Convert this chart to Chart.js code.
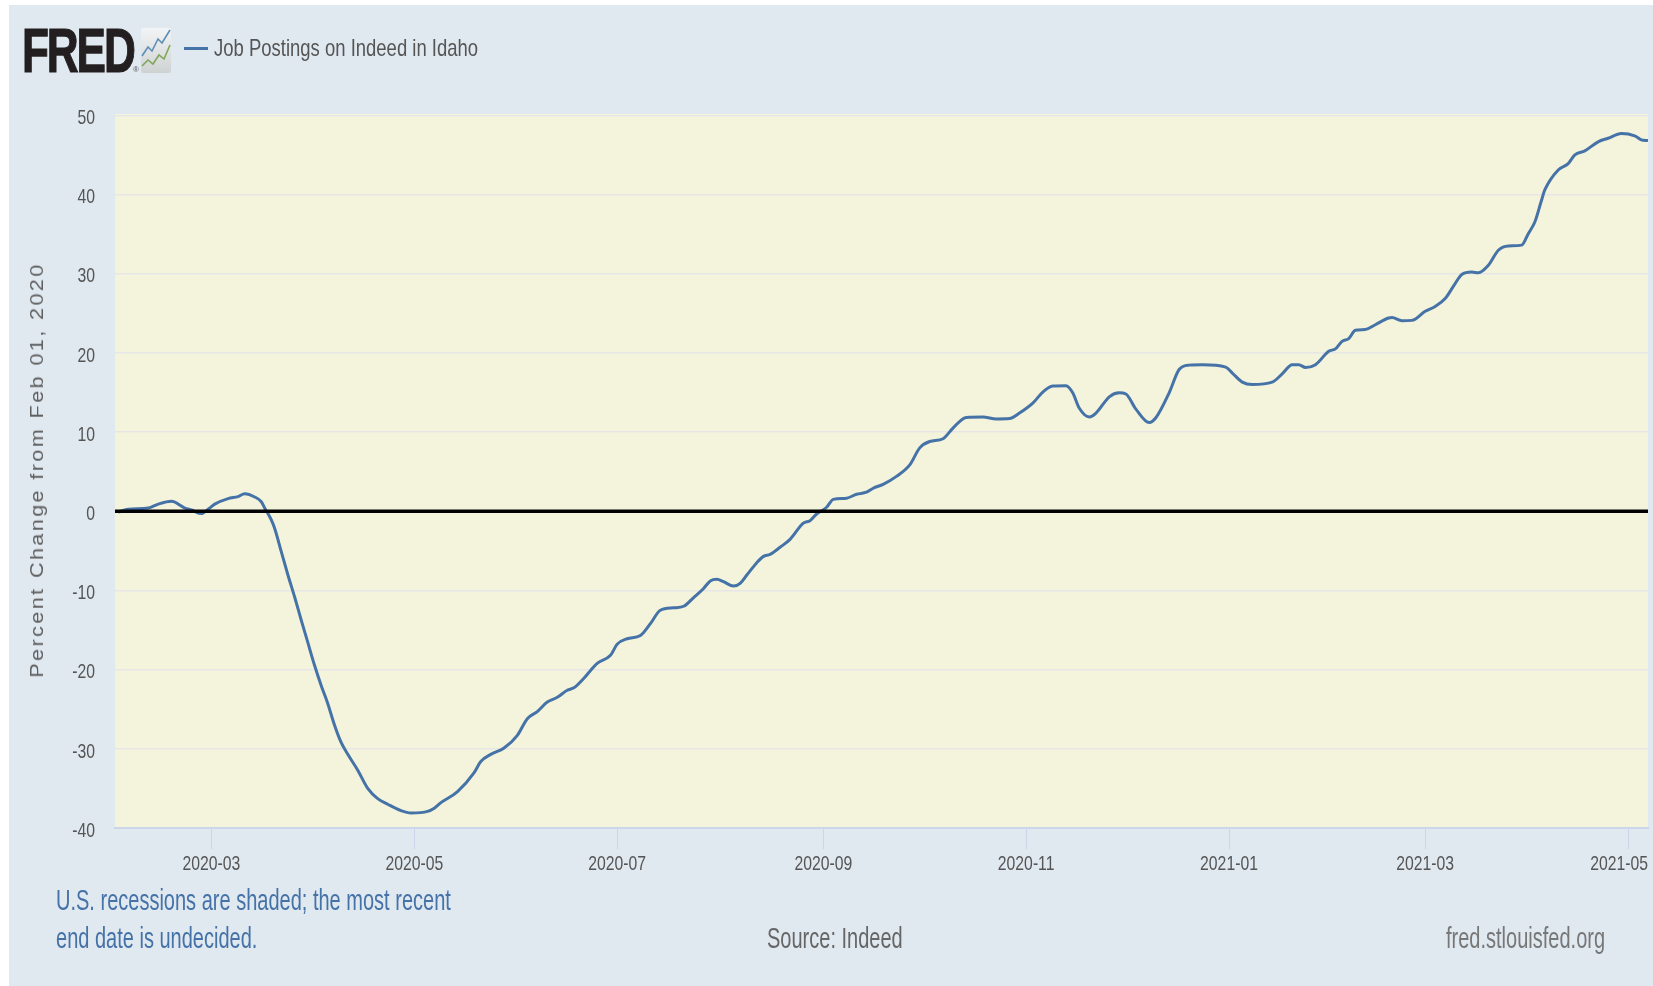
<!DOCTYPE html>
<html>
<head>
<meta charset="utf-8">
<title>Job Postings on Indeed in Idaho</title>
<script src="https://cdn.jsdelivr.net/npm/chart.js@4"></script>
<style>
  html, body { margin:0; padding:0; background:#fff; }
  #wrap { position:relative; width:1653px; height:986px; overflow:hidden; }
  #panel { position:absolute; left:9px; top:5px; right:0; bottom:0; background:#e0e8f0; }
  #chart { position:absolute; left:0; top:0; }
  .txt { position:absolute; white-space:nowrap; font-family:"Liberation Sans",sans-serif; line-height:1; transform-origin:left top; }
  #logo { left:22px; top:19px; font-size:63px; font-weight:700; color:#231f20; letter-spacing:-3px; -webkit-text-stroke:1.2px #231f20; transform:scaleX(0.70); }
  #reg { left:133px; top:66px; font-size:8px; color:#555; }
  #icon { position:absolute; left:141px; top:28px; }
  #swatch { position:absolute; left:184px; top:47px; width:24px; height:3px; background:#4572a7; }
  #legend { left:214px; top:36px; font-size:24px; color:#555; transform:scaleX(0.77); }
  #ytitle { left:37px; top:470px; font-size:18px; color:#5f5f5f; letter-spacing:2px; transform-origin:center; transform:translate(-50%,-50%) rotate(-90deg) scaleX(1.2); }
  .foot { font-size:30px; transform:scaleX(0.667); }
  #note1 { left:56px; top:885px; color:#4572a7; }
  #note2 { left:56px; top:923px; color:#4572a7; }
  #source { left:767px; top:923px; color:#666; }
  #site { left:1446px; top:923px; color:#777; }
</style>
</head>
<body>
<div id="wrap">
  <div id="panel"></div>
  <canvas id="chart" width="1653" height="986"></canvas>
  <div class="txt" id="logo">FRED</div>
  <div class="txt" id="reg">®</div>
  <svg id="icon" width="30" height="45" viewBox="0 0 30 45">
    <defs><linearGradient id="bx" x1="0" y1="0" x2="0" y2="1"><stop offset="0" stop-color="#f2f4f6"/><stop offset="1" stop-color="#cfd2d2"/></linearGradient></defs>
    <rect width="30" height="45" rx="2" fill="url(#bx)"/>
    <polyline points="1,28 7,19 11,23 17,11 21,15 29,2" fill="none" stroke="#5b8db8" stroke-width="1.6"/>
    <polyline points="1,38 7,32 12,36 18,27 23,31 29,17" fill="none" stroke="#7fa65a" stroke-width="1.6"/>
  </svg>
  <div id="swatch"></div>
  <div class="txt" id="legend">Job Postings on Indeed in Idaho</div>
  <div class="txt" id="ytitle">Percent Change from Feb 01, 2020</div>
  <div class="txt foot" id="note1">U.S. recessions are shaded; the most recent</div>
  <div class="txt foot" id="note2">end date is undecided.</div>
  <div class="txt foot" id="source">Source: Indeed</div>
  <div class="txt foot" id="site">fred.stlouisfed.org</div>
</div>
<script>
/* data. x = days since 2020-02-01, y = percent change */
const dayOffsets = [
  1,4,10,13,17,21,23,26,28,30,34,37,39,42,44,45,46,47,48,50,52,54,56,58,60,62,64,66,68,70,73,76,79,82,86,89,94,96,98,
  103,108,110,113,117,121,124,127,130,133,136,138,141,143,145,149,151,154,158,161,164,168,171,174,177,179,181,183,186,188,190,193,195,197,200,203,207,209,211,
  214,216,220,223,226,228,231,235,239,242,245,249,252,256,261,265,269,272,276,279,282,286,288,290,293,295,299,302,304,307,311,313,317,320,323,327,334,
  336,339,342,348,351,354,356,358,361,365,367,369,371,373,376,379,383,384,387,390,394,397,400,403,405,408,410,413,416,419,423,425,427,429,
  430,434,437,439,442,446,449,453,457,459,461
];
const pctChange = [
  -0.1,0.25,0.4,0.9,1.25,0.4,0.15,-0.3,0.25,0.9,1.6,1.85,2.2,1.8,1.2,0.4,-0.3,-1.1,-2.15,-5.1,-8.05,-10.8,-13.75,-16.6,-19.45,-22,-24.3,-27,-29.2,-30.7,-32.7,-35,-36.3,-37,-37.8,-38.1,-37.9,-37.5,-36.8,
  -35.4,-33,-31.6,-30.7,-29.9,-28.3,-26.2,-25.3,-24.1,-23.5,-22.6,-22.3,-21.1,-20.1,-19.2,-18.2,-16.8,-16.1,-15.7,-14.2,-12.5,-12.2,-12,-10.9,-9.75,-8.8,-8.6,-8.9,-9.45,-9.1,-8.05,-6.5,-5.7,-5.45,-4.55,-3.55,-1.5,-1.2,-0.35,
  0.5,1.5,1.65,2.15,2.4,2.9,3.4,4.4,5.85,8,8.8,9.15,10.5,11.85,11.9,11.65,11.7,12.4,13.65,15.05,15.8,15.85,14.95,13,11.9,12.4,14.45,14.95,14.8,12.9,11.2,11.8,14.95,17.9,18.45,18.5,18.2,
  17.45,16.3,16,16.3,17.35,18.5,18.5,18.15,18.5,20.2,20.5,21.45,21.8,22.85,22.95,23.55,24.4,24.45,24.05,24.1,25.25,25.85,26.85,28.75,29.9,30.2,30.1,31.05,32.95,33.5,33.6,35.05,36.55,39.3,
  40.6,43.1,43.9,45,45.5,46.65,47.1,47.7,47.4,46.9,46.8
];
const yTicks = [-40,-30,-20,-10,0,10,20,30,40,50];
const xTickDays = [29,90,151,213,274,335,394,455];
const xTickLabels = ['2020-03','2020-05','2020-07','2020-09','2020-11','2021-01','2021-03','2021-05'];
const zeroLine = [0,461];

const tickFont = '21px "Liberation Sans",sans-serif';
const tickSquash = 0.75;   // no condensed font installed, so squeeze the labels

function narrowText(c, text, x, y, align){
  c.save();
  c.translate(x, y);
  c.scale(tickSquash, 1);
  c.textAlign = align;
  c.textBaseline = 'middle';
  c.fillText(text, 0, 0);
  c.restore();
}

/* plot background and the squeezed tick labels */
const plotExtras = {
  id:'plotExtras',
  beforeDraw(chart){
    const a = chart.chartArea, c = chart.ctx;
    c.save();
    c.fillStyle = '#f4f4dc';
    c.fillRect(a.left, a.top, a.right-a.left, a.bottom-a.top);
    c.restore();
  },
  afterDraw(chart){
    const c = chart.ctx, sx = chart.scales.x, sy = chart.scales.y;
    c.save();
    c.font = tickFont;
    c.fillStyle = '#555';
    xTickDays.forEach((d,i)=>{
      // last label is pulled back so it stays inside the frame
      if (i === xTickDays.length-1) narrowText(c, xTickLabels[i], chart.chartArea.right, 864, 'right');
      else narrowText(c, xTickLabels[i], sx.getPixelForValue(d), 864, 'center');
    });
    yTicks.forEach(v=> narrowText(c, String(v), 95, sy.getPixelForValue(v)+3, 'right'));
    c.restore();
  }
};

new Chart(document.getElementById('chart').getContext('2d'), {
  type:'line',
  data:{
    datasets:[
      {
        label:'Job Postings on Indeed in Idaho',
        data:dayOffsets.map((d,i)=>({x:d,y:pctChange[i]})),
        borderColor:'#4572a7', borderWidth:3,
        pointRadius:0, cubicInterpolationMode:'monotone', order:1
      },
      {
        label:'zero',
        data:zeroLine.map(d=>({x:d,y:0})),
        borderColor:'#000', borderWidth:3.5,
        pointRadius:0, order:0
      }
    ]
  },
  options:{
    responsive:false,
    animation:false,
    layout:{ padding:{ top:114, right:5, left:0, bottom:0 } },
    plugins:{ legend:{display:false}, tooltip:{enabled:false} },
    scales:{
      x:{
        type:'linear', min:0, max:461,
        afterBuildTicks(s){ s.ticks = xTickDays.map(v=>({value:v})); },
        afterFit(s){ s.height = 158; },
        grid:{ drawOnChartArea:false, drawTicks:true, tickLength:21, tickColor:'#ccd6eb' },
        border:{ color:'#ccd6eb', width:2 },
        ticks:{ display:false }
      },
      y:{
        min:-40, max:50.16,
        afterBuildTicks(s){ s.ticks = yTicks.map(v=>({value:v})); },
        afterFit(s){ s.width = 115; },
        grid:{ color:'#e6e6e6', lineWidth:1.5, drawTicks:false },
        border:{ display:false },
        ticks:{ display:false }
      }
    }
  },
  plugins:[plotExtras]
});
</script>
</body>
</html>
